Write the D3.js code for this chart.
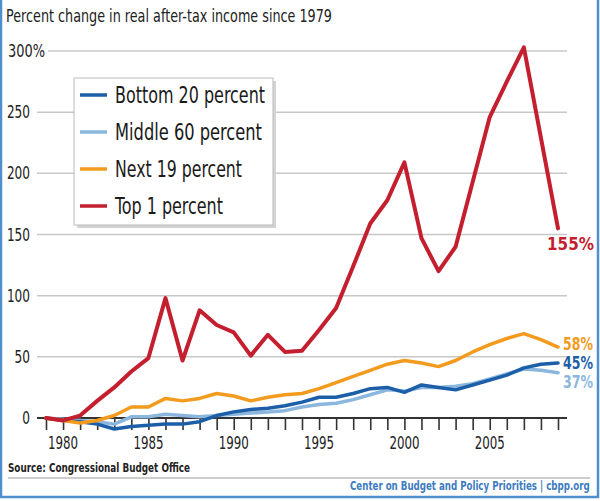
<!DOCTYPE html>
<html><head><meta charset="utf-8">
<script src="https://cdn.jsdelivr.net/npm/d3@7"></script>
<style>
html,body{margin:0;padding:0;background:#fff;}
svg{display:block;font-family:"DejaVu Sans Condensed","DejaVu Sans",sans-serif;}
</style></head>
<body>
<svg id="c" width="600" height="501"></svg>
<script>
const years = d3.range(1979, 2010);
const bottom20 = [0,-2,-3,-5,-9,-7,-6,-5,-5,-3,2,5,7,8,10,13,17,17,20,24,25,21,27,25,23,27,31,35,41,44,45];
const middle60 = [0,-1,-2,-3,-5,1,1,3,2,1,2,3,4,5,6,9,11,12,15,19,23,22,25,25,26,28,32,36,40,39,37];
const next19   = [0,-2,-4,-2,2,9,9,16,14,16,20,18,14,17,19,20,24,29,34,39,44,47,45,42,47,54,60,65,69,64,58];
const top1     = [0,-2,2,14,25,38,49,98,47,88,76,70,51,68,54,55,72,90,124,159,178,209,147,120,140,193,246,275,303,229,155];
const seriesNames = ["Bottom 20 percent","Middle 60 percent","Next 19 percent","Top 1 percent"];
const seriesColors = ["#1c5ea8","#8bb7de","#f39b1e","#c41f2f"];
const endLabels = ["45%","37%","58%","155%"];
const yTicks = [0,50,100,150,200,250,300];
const xTickLabels = [1980,1985,1990,1995,2000,2005];

const svg = d3.select("#c");
const x = d3.scaleLinear().domain([1979,2009]).range([46,558]);
const y = d3.scaleLinear().domain([0,300]).range([418,51]);
const fit = (sel, w) => sel.attr("textLength", w).attr("lengthAdjust","spacingAndGlyphs");

// frame
svg.append("rect").attr("x",1).attr("y",-2).attr("width",597).attr("height",499)
  .attr("fill","none").attr("stroke","#4f8fd0").attr("stroke-width",2.5);

// title
svg.append("text").attr("x",6).attr("y",22).attr("font-size",17).attr("fill","#222")
  .text("Percent change in real after-tax income since 1979").call(fit,326);

// gridlines
svg.append("g").selectAll("line").data(yTicks.filter(d=>d>0)).join("line")
  .attr("x1",d=>d===300?48:37).attr("x2",567)
  .attr("y1",d=>y(d)).attr("y2",d=>y(d))
  .attr("stroke","#c8c8c8").attr("stroke-width",1.5);

// y labels
const yl = svg.append("g");
const yLab = d => d===300 ? "300%" : String(d);
yl.selectAll("text").data(yTicks).join("text")
  .attr("x",d=>d===300?45:30).attr("y",d=>y(d)+6).attr("text-anchor","end")
  .attr("font-size",17).attr("fill","#222").text(yLab)
  .attr("textLength",d=>d===300?37:String(d).length*7.7).attr("lengthAdjust","spacingAndGlyphs");

// x axis
const xAxis = d3.axisBottom(x).tickValues(years).tickSize(12).tickFormat("");
const ax = svg.append("g").attr("transform","translate(0,418)").call(xAxis);
ax.select(".domain").remove();
ax.selectAll(".tick line").attr("stroke","#333").attr("stroke-width",1.6);
svg.append("line").attr("x1",37).attr("x2",567).attr("y1",418).attr("y2",418)
  .attr("stroke","#333").attr("stroke-width",2);
svg.append("g").selectAll("text").data(xTickLabels).join("text")
  .attr("x",d=>x(d)).attr("y",449).attr("text-anchor","middle")
  .attr("font-size",18).attr("fill","#222").text(d=>d).call(fit,30);

// legend
const lg = svg.append("g");
lg.append("rect").attr("x",77).attr("y",81).attr("width",199).attr("height",147).attr("fill","#d4d4d4");
lg.append("rect").attr("x",74).attr("y",78).attr("width",199).attr("height",147)
  .attr("fill","#fff").attr("stroke","#bbb").attr("stroke-width",1);
const rows = [0,1,2,3];
const legW = [150,147,127,108];
lg.selectAll("line.l").data(rows).join("line").attr("class","l")
  .attr("x1",80).attr("x2",107).attr("y1",d=>95+d*37).attr("y2",d=>95+d*37)
  .attr("stroke",d=>seriesColors[d]).attr("stroke-width",3.5);
lg.selectAll("text").data(rows).join("text")
  .attr("x",115).attr("y",d=>95+d*37+8).attr("font-size",23).attr("fill","#1a1a1a")
  .text(d=>seriesNames[d]).attr("textLength",d=>legW[d]).attr("lengthAdjust","spacingAndGlyphs");

// lines
const allSeries = [bottom20,middle60,next19,top1];
const line = d3.line().x((d,i)=>x(years[i])).y(d=>y(d)).curve(d3.curveLinear);
const order = [1,0,2,3];
svg.append("g").selectAll("path").data(order).join("path")
  .attr("d",k=>line(allSeries[k])).attr("fill","none")
  .attr("stroke",k=>seriesColors[k]).attr("stroke-width",k=>k===3?4:3.5)
  .attr("stroke-linejoin","round").attr("stroke-linecap","round");

// end labels
const endX = [563,563,563,547];
const endY = [369,388,350,250];
const endW = [30,30,30,47];
svg.append("g").selectAll("text").data([0,1,2,3]).join("text")
  .attr("x",k=>endX[k]).attr("y",k=>endY[k]).attr("font-size",17).attr("font-weight","bold")
  .attr("fill",k=>seriesColors[k]).text(k=>endLabels[k])
  .attr("textLength",k=>endW[k]).attr("lengthAdjust","spacingAndGlyphs");

// footer
svg.append("line").attr("x1",8).attr("x2",590).attr("y1",478).attr("y2",478)
  .attr("stroke","#bdbdbd").attr("stroke-width",1.5);
svg.append("text").attr("x",8).attr("y",472).attr("font-size",12).attr("font-weight","bold")
  .attr("fill","#222").text("Source: Congressional Budget Office").call(fit,182);
const credG = svg.append("g");
const cred = credG.append("text").attr("x",0).attr("y",0).attr("font-size",12.5)
  .attr("font-weight","bold").attr("fill","#3d7cc0").text("Center on Budget and Policy Priorities | cbpp.org");
const natW = cred.node().getComputedTextLength() || 300;
credG.attr("transform",`translate(350,490) scale(${240/natW},1)`);
</script>
</body></html>
